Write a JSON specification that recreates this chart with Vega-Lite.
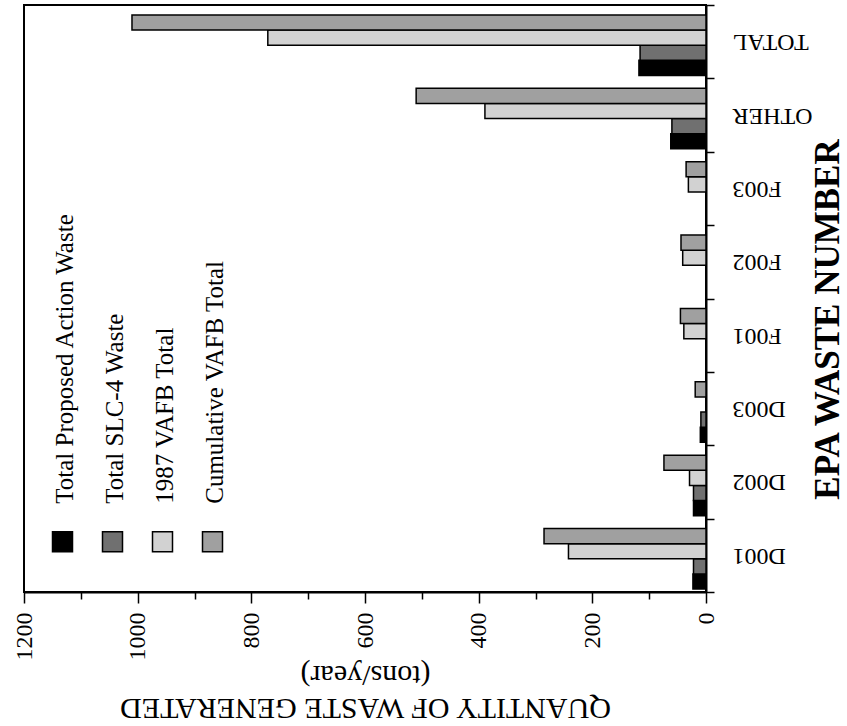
{
  "$schema": "https://vega.github.io/schema/vega-lite/v6.json",
  "width": 682,
  "height": 587,
  "autosize": {"type": "none"},
  "padding": {"left": 24, "top": 5, "right": 141, "bottom": 134},
  "background": "white",
  "config": {
    "view": {"stroke": "black", "strokeWidth": 2},
    "font": "Liberation Serif"
  },
  "data": {
    "values": [
      {"category": "D001", "series": "Total Proposed Action Waste", "value": 23},
      {"category": "D001", "series": "Total SLC-4 Waste", "value": 22},
      {"category": "D001", "series": "1987 VAFB Total", "value": 242},
      {"category": "D001", "series": "Cumulative VAFB Total", "value": 285},
      {"category": "D002", "series": "Total Proposed Action Waste", "value": 22},
      {"category": "D002", "series": "Total SLC-4 Waste", "value": 22},
      {"category": "D002", "series": "1987 VAFB Total", "value": 29},
      {"category": "D002", "series": "Cumulative VAFB Total", "value": 74},
      {"category": "D003", "series": "Total Proposed Action Waste", "value": 10},
      {"category": "D003", "series": "Total SLC-4 Waste", "value": 9},
      {"category": "D003", "series": "1987 VAFB Total", "value": 0},
      {"category": "D003", "series": "Cumulative VAFB Total", "value": 19},
      {"category": "F001", "series": "Total Proposed Action Waste", "value": 0},
      {"category": "F001", "series": "Total SLC-4 Waste", "value": 0},
      {"category": "F001", "series": "1987 VAFB Total", "value": 39},
      {"category": "F001", "series": "Cumulative VAFB Total", "value": 45},
      {"category": "F002", "series": "Total Proposed Action Waste", "value": 0},
      {"category": "F002", "series": "Total SLC-4 Waste", "value": 0},
      {"category": "F002", "series": "1987 VAFB Total", "value": 41},
      {"category": "F002", "series": "Cumulative VAFB Total", "value": 44},
      {"category": "F003", "series": "Total Proposed Action Waste", "value": 0},
      {"category": "F003", "series": "Total SLC-4 Waste", "value": 0},
      {"category": "F003", "series": "1987 VAFB Total", "value": 31},
      {"category": "F003", "series": "Cumulative VAFB Total", "value": 35},
      {"category": "OTHER", "series": "Total Proposed Action Waste", "value": 62},
      {"category": "OTHER", "series": "Total SLC-4 Waste", "value": 60},
      {"category": "OTHER", "series": "1987 VAFB Total", "value": 389},
      {"category": "OTHER", "series": "Cumulative VAFB Total", "value": 510},
      {"category": "TOTAL", "series": "Total Proposed Action Waste", "value": 118},
      {"category": "TOTAL", "series": "Total SLC-4 Waste", "value": 116},
      {"category": "TOTAL", "series": "1987 VAFB Total", "value": 771},
      {"category": "TOTAL", "series": "Cumulative VAFB Total", "value": 1010}
    ]
  },
  "mark": {"type": "bar", "stroke": "black", "strokeWidth": 1.5},
  "encoding": {
    "y": {
      "field": "category",
      "type": "nominal",
      "sort": ["TOTAL", "OTHER", "F003", "F002", "F001", "D003", "D002", "D001"],
      "scale": {"paddingInner": 0, "paddingOuter": 0},
      "axis": {
        "orient": "right",
        "tickBand": "extent",
        "tickSize": 8,
        "tickColor": "black",
        "tickWidth": 1.5,
        "domainColor": "black",
        "domainWidth": 2,
        "labelAngle": 180,
        "labelAlign": "right",
        "labelBaseline": "middle",
        "labelPadding": 18,
        "labelFont": "Liberation Serif",
        "labelFontSize": 24,
        "labelColor": "black",
        "title": "EPA WASTE NUMBER",
        "titleFont": "Liberation Serif",
        "titleFontSize": 35,
        "titleFontWeight": "bold",
        "titleColor": "black",
        "titleAngle": 270,
        "titleAlign": "center",
        "titleBaseline": "middle",
        "titleX": 121,
        "titleY": 314
      }
    },
    "yOffset": {
      "field": "series",
      "type": "nominal",
      "sort": ["Cumulative VAFB Total", "1987 VAFB Total", "Total SLC-4 Waste", "Total Proposed Action Waste"],
      "scale": {"paddingInner": 0, "paddingOuter": 0.43, "align": 0.77}
    },
    "x": {
      "field": "value",
      "type": "quantitative",
      "scale": {"domain": [0, 1200], "reverse": true, "nice": false, "zero": true},
      "axis": {
        "orient": "bottom",
        "grid": false,
        "values": [0, 100, 200, 300, 400, 500, 600, 700, 800, 900, 1000, 1100, 1200],
        "labelExpr": "datum.value % 200 == 0 ? datum.label : ''",
        "format": "d",
        "labelAngle": -90,
        "labelAlign": "right",
        "labelBaseline": "middle",
        "labelFlush": false,
        "labelOverlap": false,
        "labelPadding": 9,
        "labelFont": "Liberation Serif",
        "labelFontSize": 24,
        "labelColor": "black",
        "tickColor": "black",
        "tickWidth": 1.5,
        "tickSize": {"condition": {"test": "datum.value % 200 === 0", "value": 11}, "value": 7},
        "domainColor": "black",
        "domainWidth": 2,
        "title": ["QUANTITY OF WASTE GENERATED", "(tons/year)"],
        "titleFont": "Liberation Serif",
        "titleFontSize": 30,
        "titleFontWeight": "normal",
        "titleColor": "black",
        "titleAngle": 180,
        "titleAlign": "center",
        "titleBaseline": "middle",
        "titleLineHeight": 33,
        "titleX": 341,
        "titleY": 115
      }
    },
    "fill": {
      "field": "series",
      "type": "nominal",
      "scale": {
        "domain": ["Total Proposed Action Waste", "Total SLC-4 Waste", "1987 VAFB Total", "Cumulative VAFB Total"],
        "range": ["#000000", "#707070", "#d2d2d2", "#a0a0a0"]
      },
      "legend": {
        "orient": "none",
        "legendX": 26,
        "legendY": 524,
        "direction": "horizontal",
        "columns": 4,
        "columnPadding": 20,
        "padding": 0,
        "title": null,
        "symbolType": "square",
        "symbolSize": 400,
        "symbolStrokeColor": "black",
        "symbolStrokeWidth": 1.5,
        "labelFont": "Liberation Serif",
        "labelFontSize": 25,
        "labelColor": "black",
        "labelLimit": 0,
        "encode": {
          "labels": {
            "update": {
              "angle": {"value": -90},
              "align": {"value": "left"},
              "baseline": {"value": "middle"},
              "dx": {"value": 38},
              "dy": {"value": -14}
            }
          }
        }
      }
    }
  }
}
